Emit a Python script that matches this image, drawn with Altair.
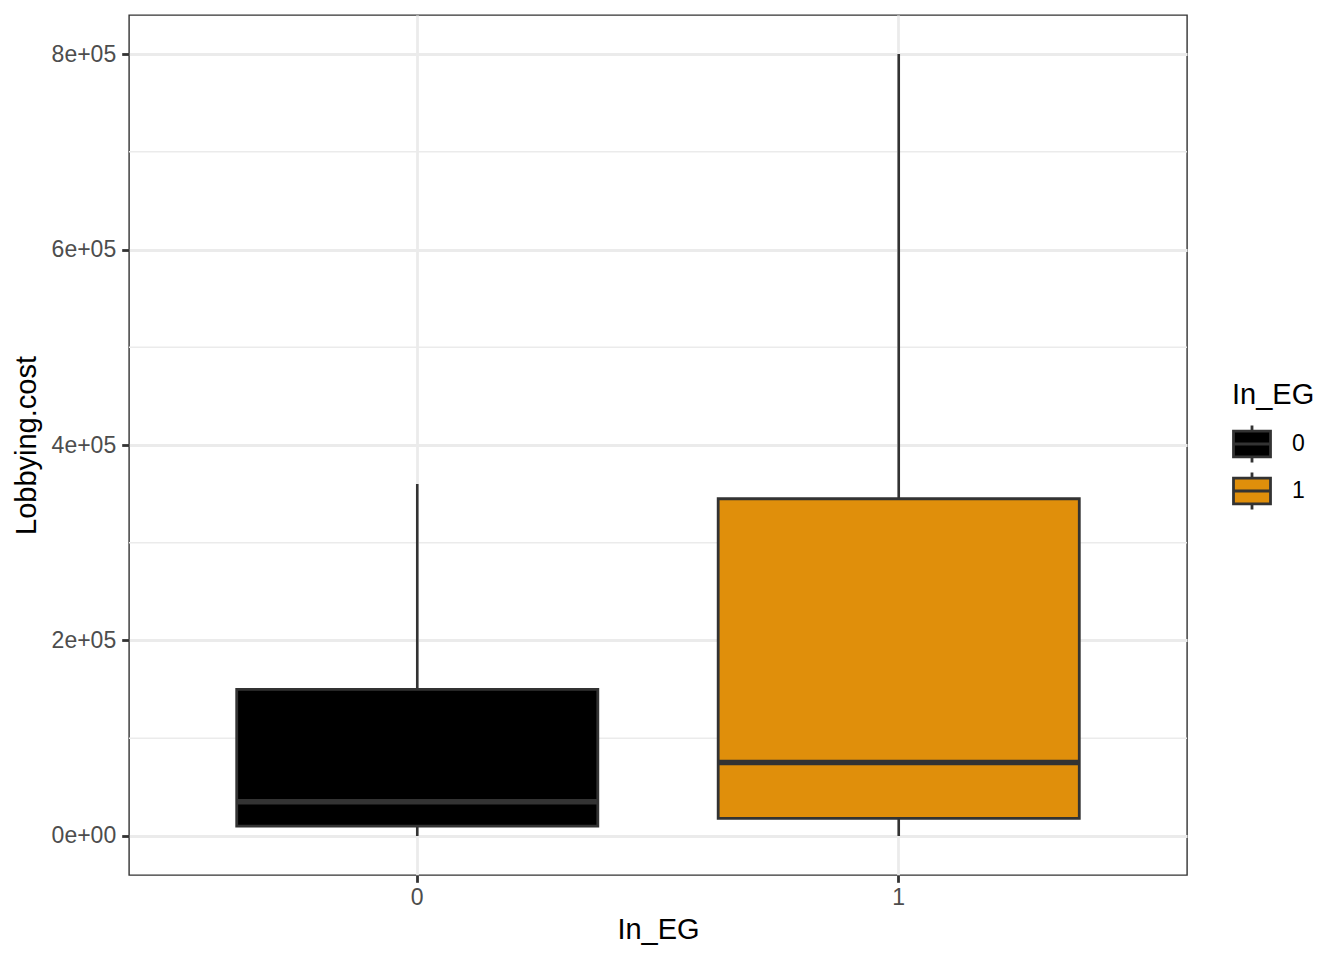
import altair as alt
import pandas as pd

groups = ["0", "1"]
low = [0, 0]
q1 = [10000, 18000]
median = [35000, 75000]
q3 = [150000, 345000]
high = [360000, 800000]
fills = ["#000000", "#E08F0B"]
minor_breaks = [100000, 300000, 500000, 700000]
major_breaks = [0, 200000, 400000, 600000, 800000]

df = pd.DataFrame({"In_EG": groups, "low": low, "q1": q1, "median": median,
                   "q3": q3, "high": high})
minor_df = pd.DataFrame({"v": minor_breaks})

W, H = 1058, 860
FONT = "Liberation Sans"

xscale = alt.Scale(domain=groups, paddingInner=0.25, paddingOuter=0.2237)
yscale = alt.Scale(domain=[-40000, 840000], nice=False, zero=False)

x_enc = alt.X("In_EG:N", scale=xscale,
              axis=alt.Axis(title="In_EG", labelAngle=0, bandPosition=0.5,
                            labelPadding=4, titlePadding=6))

y_axis = alt.Axis(title="Lobbying.cost", values=major_breaks,
                  labelExpr="datum.value == 0 ? '0e+00' : format(datum.value/100000, 'd') + 'e+05'",
                  labelPadding=6, titlePadding=10)

minor = alt.Chart(minor_df).mark_rule(color="#EBEBEB", strokeWidth=1.4).encode(
    y=alt.Y("v:Q", scale=yscale, axis=y_axis)
)

whisk = alt.Chart(df).mark_rule(color="#333333", strokeWidth=2.6).encode(
    x=x_enc,
    y=alt.Y("low:Q", scale=yscale, axis=y_axis),
    y2="high:Q",
)

legend_path = ("M-1,-0.7H1V0.7H-1Z M-1,0H1 M0,-0.7V-1 M0,0.7V1")

box = alt.Chart(df).mark_bar(stroke="#333333", strokeWidth=2.8).encode(
    x=alt.X("In_EG:N", scale=xscale),
    y=alt.Y("q1:Q", scale=yscale),
    y2="q3:Q",
    fill=alt.Fill("In_EG:N", scale=alt.Scale(domain=groups, range=fills),
                  legend=alt.Legend(title="In_EG", orient="none", legendX=1103,
                                    legendY=366, symbolType=legend_path,
                                    symbolSize=1369, symbolStrokeColor="#333333",
                                    symbolStrokeWidth=2.8, symbolOpacity=1,
                                    titleFontSize=29, titleFont=FONT,
                                    titleFontWeight="normal", titleColor="#000000",
                                    labelFontSize=23, labelFont=FONT,
                                    labelColor="#000000", rowPadding=-3,
                                    titlePadding=14, labelOffset=20)),
)

med = alt.Chart(df).mark_tick(color="#333333", thickness=5.5, size=361,
                              orient="horizontal", opacity=1).encode(
    x=alt.X("In_EG:N", scale=xscale),
    y=alt.Y("median:Q", scale=yscale),
)

chart = alt.layer(minor, whisk, box, med).properties(
    width=W, height=H,
    padding={"left": 121, "top": 7, "right": 149, "bottom": 77},
    autosize=alt.AutoSizeParams(type="none"),
).configure(background="white").configure_view(
    stroke="#333333", strokeWidth=1.4
).configure_axis(
    grid=True, gridColor="#EBEBEB", gridWidth=2.8,
    tickColor="#333333", tickSize=7.3, tickWidth=2.8, domain=False,
    labelColor="#4D4D4D", labelFontSize=23, labelFont=FONT,
    titleFontSize=29, titleColor="#000000", titleFontWeight="normal", titleFont=FONT,
)

chart.save("out.html", embed_options={"renderer": "svg", "actions": False})
